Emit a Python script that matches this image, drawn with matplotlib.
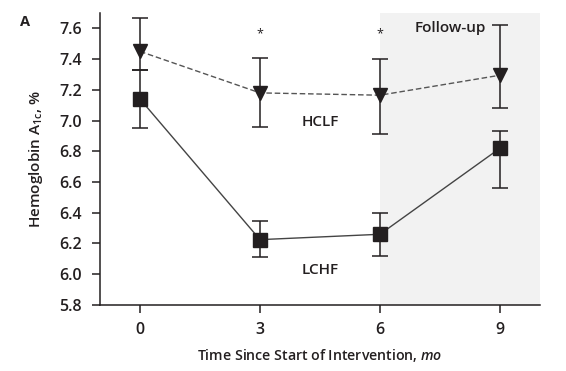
"""Hemoglobin A1c over time for LCHF vs HCLF diets."""

import matplotlib
matplotlib.use("Agg")
import matplotlib.pyplot as plt

plt.rcParams["font.family"] = ["Open Sans", "DejaVu Sans"]
plt.rcParams["mathtext.fontset"] = "custom"
plt.rcParams["mathtext.rm"] = "Open Sans:semibold"
plt.rcParams["mathtext.it"] = "Open Sans:italic:semibold"
plt.rcParams["mathtext.bf"] = "Open Sans:bold"

months = [0, 3, 6, 9]

hclf_mean = [7.45, 7.18, 7.165, 7.295]
hclf_lo = [0.12, 0.22, 0.255, 0.215]
hclf_hi = [0.22, 0.23, 0.235, 0.325]

lchf_mean = [7.14, 6.225, 6.26, 6.82]
lchf_lo = [0.19, 0.115, 0.14, 0.26]
lchf_hi = [0.19, 0.12, 0.14, 0.11]

star_months = [3, 6]
yticks = [5.8, 6.0, 6.2, 6.4, 6.6, 6.8, 7.0, 7.2, 7.4, 7.6]

ink = "#231f20"

fig = plt.figure(figsize=(5.66, 3.71), dpi=100)
ax = fig.add_axes([0.1767, 0.178, 0.7773, 0.787])

ax.axvspan(6, 10, color="#f2f2f2", zorder=0, lw=0)

ax.errorbar(months, hclf_mean, yerr=[hclf_lo, hclf_hi], fmt="none",
            ecolor=ink, elinewidth=1.1, capsize=6, capthick=1.1, zorder=2)
ax.errorbar(months, lchf_mean, yerr=[lchf_lo, lchf_hi], fmt="none",
            ecolor=ink, elinewidth=1.1, capsize=6, capthick=1.1, zorder=2)

ax.plot(months, hclf_mean, ls=(0, (4, 2)), color="#555555", lw=1.0,
        marker="v", ms=10, mfc=ink, mec=ink, zorder=3)
ax.plot(months, lchf_mean, ls="-", color="#444444", lw=1.0,
        marker="s", ms=10, mfc=ink, mec=ink, zorder=3)

for m in star_months:
    ax.text(m, 7.565, "*", ha="center", va="center", fontsize=9, color=ink)

ax.text(4.5, 6.99, "HCLF", ha="center", va="center", fontsize=11,
        fontweight="semibold", color=ink)
ax.text(4.5, 6.03, "LCHF", ha="center", va="center", fontsize=11,
        fontweight="semibold", color=ink)
ax.text(7.75, 7.6, "Follow-up", ha="center", va="center", fontsize=11,
        fontweight="semibold", color=ink)

ax.set_xlim(-1, 10)
ax.set_ylim(5.8, 7.7)
ax.set_xticks(months)
ax.set_yticks(yticks)
ax.set_yticklabels([f"{v:.1f}" for v in yticks])
ax.tick_params(axis="both", labelsize=11.5, colors=ink, width=1.1, length=6)
ax.tick_params(axis="y", pad=7)
ax.tick_params(axis="x", pad=6)
for lab in ax.get_xticklabels() + ax.get_yticklabels():
    lab.set_fontweight("semibold")

for side in ("top", "right"):
    ax.spines[side].set_visible(False)
for side in ("left", "bottom"):
    ax.spines[side].set_linewidth(1.1)
    ax.spines[side].set_color(ink)

ax.set_xlabel(r"Time Since Start of Intervention, $\mathit{mo}$",
              fontsize=10.2, fontweight="semibold", color=ink, labelpad=7)
ax.set_ylabel(r"Hemoglobin A$_{\mathrm{1c}}$, %", fontsize=11,
              fontweight="semibold", color=ink, labelpad=10)

fig.text(0.044, 0.94, "A", fontsize=10.5, fontweight="bold", color=ink,
         ha="center", va="center")

fig.savefig("out.png", dpi=100)
